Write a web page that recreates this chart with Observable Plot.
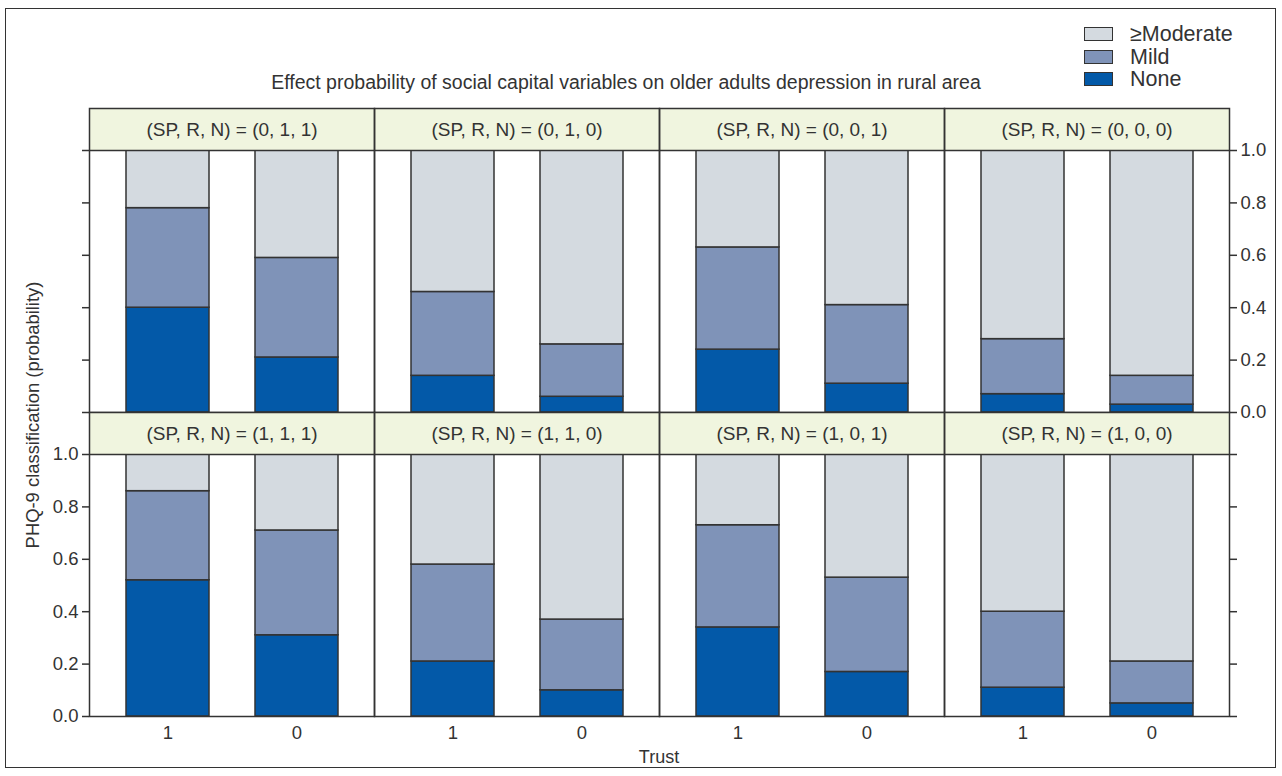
<!DOCTYPE html>
<html>
<head>
<meta charset="utf-8">
<script src="https://cdn.jsdelivr.net/npm/d3@7"></script>
<script src="https://cdn.jsdelivr.net/npm/@observablehq/plot@0.6"></script>
<style>
  html, body { margin: 0; padding: 0; background: #fff; }
  body { width: 1282px; height: 776px; position: relative; overflow: hidden;
         font-family: "Liberation Sans", Arial, sans-serif; color: #333; }
  .abs { position: absolute; }
  #frame { left: 5px; top: 8px; width: 1269px; height: 758px; border: 1.5px solid #333; }
  #title { top: 82px; left: 626px; transform: translate(-50%, -50%); font-size: 19.5px; white-space: nowrap; }
  #ylab { left: 33px; top: 415px; transform: translate(-50%, -50%) rotate(-90deg); font-size: 18.4px; white-space: nowrap; }
  #xlab { left: 659px; top: 757px; transform: translate(-50%, -50%); font-size: 18px; }
  .sw { position: absolute; left: 1084px; width: 27px; height: 12px; border: 1.5px solid #333; }
  .lt { position: absolute; left: 1130px; font-size: 21.5px; line-height: 22px; }
  svg { overflow: visible; }
</style>
</head>
<body>
<div id="frame" class="abs"></div>
<div id="title" class="abs">Effect probability of social capital variables on older adults depression in rural area</div>
<div id="ylab" class="abs">PHQ-9 classification (probability)</div>
<div id="xlab" class="abs">Trust</div>
<div id="legend"></div>
<div id="top" class="abs" style="left:0;top:106px;"></div>
<div id="bottom" class="abs" style="left:0;top:410px;"></div>
<script>
// ---- data ----
const topCombos = ["(0, 1, 1)", "(0, 1, 0)", "(0, 0, 1)", "(0, 0, 0)"];
const bottomCombos = ["(1, 1, 1)", "(1, 1, 0)", "(1, 0, 1)", "(1, 0, 0)"];
const trustLevels = ["1", "0"];
const levels = ["None", "Mild", "≥Moderate"];
const levelColors = ["#0359A8", "#7F93B8", "#D4DAE0"];
const legendOrder = ["≥Moderate", "Mild", "None"];
const yTicks = [0, 0.2, 0.4, 0.6, 0.8, 1.0];

// probabilities per combo, [Trust=1, Trust=0]
const pNoneTop     = [[0.40, 0.21], [0.14, 0.06], [0.24, 0.11], [0.07, 0.03]];
const pMildTop     = [[0.38, 0.38], [0.32, 0.20], [0.39, 0.30], [0.21, 0.11]];
const pModerateTop = [[0.22, 0.41], [0.54, 0.74], [0.37, 0.59], [0.72, 0.86]];
const pNoneBottom     = [[0.52, 0.31], [0.21, 0.10], [0.34, 0.17], [0.11, 0.05]];
const pMildBottom     = [[0.34, 0.40], [0.37, 0.27], [0.39, 0.36], [0.29, 0.16]];
const pModerateBottom = [[0.14, 0.29], [0.42, 0.63], [0.27, 0.47], [0.60, 0.79]];

const stripColor = "#F0F5DF";
const ink = "#333";
const unitPx = 262, stripPx = 42;
const yMax = (unitPx + stripPx) / unitPx;

function buildRows(combos, pn, pm, pmod) {
  const rows = [];
  combos.forEach((c, i) => {
    trustLevels.forEach((t, j) => {
      rows.push({combo: c, trust: t, level: "None", p: pn[i][j]});
      rows.push({combo: c, trust: t, level: "Mild", p: pm[i][j]});
      rows.push({combo: c, trust: t, level: "≥Moderate", p: pmod[i][j]});
    });
  });
  return rows;
}

function panelRow(combos, data, isTop) {
  const mt = 2, mb = isTop ? 2 : 30;
  return Plot.plot({
    width: 1282,
    height: mt + unitPx + stripPx + mb,
    marginLeft: 88, marginRight: 52, marginTop: mt, marginBottom: mb,
    style: {fontFamily: "'Liberation Sans', Arial, sans-serif", color: ink, background: "transparent", overflow: "visible"},
    fx: {domain: combos, padding: 0, axis: null},
    x: {domain: trustLevels, paddingInner: 0.36, paddingOuter: 0.28, axis: null},
    y: {domain: [0, yMax], axis: null},
    color: {domain: levels, range: levelColors},
    marks: [
      Plot.barY(data, Plot.stackY({
        order: levels, fx: "combo", x: "trust", y: "p", fill: "level",
        stroke: ink, strokeWidth: 1.5
      })),
      Plot.barY(combos, {fx: d => d, y1: 1, y2: yMax, fill: stripColor}),
      Plot.text(combos, {fx: d => d, y: (1 + yMax) / 2, text: d => `(SP, R, N) = ${d}`,
        fontSize: 19, fill: ink}),
      Plot.ruleY([1], {stroke: ink, strokeWidth: 1.5}),
      Plot.frame({stroke: ink, strokeWidth: 1.5}),
      Plot.axisY(yTicks, {anchor: "left", tickSize: 7, tickPadding: 4, fontSize: 18.5,
        tickFormat: isTop ? () => "" : ".1f", label: null, strokeWidth: 1.5}),
      Plot.axisY(yTicks, {anchor: "right", tickSize: 7, tickPadding: 4, fontSize: 18.5,
        tickFormat: isTop ? ".1f" : () => "", label: null, strokeWidth: 1.5}),
      ...(isTop ? [] : [Plot.axisX({anchor: "bottom", tickSize: 0, tickPadding: 9,
        fontSize: 18.5, label: null})])
    ]
  });
}

document.getElementById("top").appendChild(
  panelRow(topCombos, buildRows(topCombos, pNoneTop, pMildTop, pModerateTop), true));
document.getElementById("bottom").appendChild(
  panelRow(bottomCombos, buildRows(bottomCombos, pNoneBottom, pMildBottom, pModerateBottom), false));

// legend
const lg = document.getElementById("legend");
legendOrder.forEach((l, i) => {
  const y = 27 + i * 22.5;
  const sw = document.createElement("div");
  sw.className = "sw";
  sw.style.top = y + "px";
  sw.style.background = levelColors[levels.indexOf(l)];
  lg.appendChild(sw);
  const tx = document.createElement("div");
  tx.className = "lt";
  tx.style.top = (y - 4) + "px";
  tx.textContent = l;
  lg.appendChild(tx);
});
</script>
</body>
</html>
